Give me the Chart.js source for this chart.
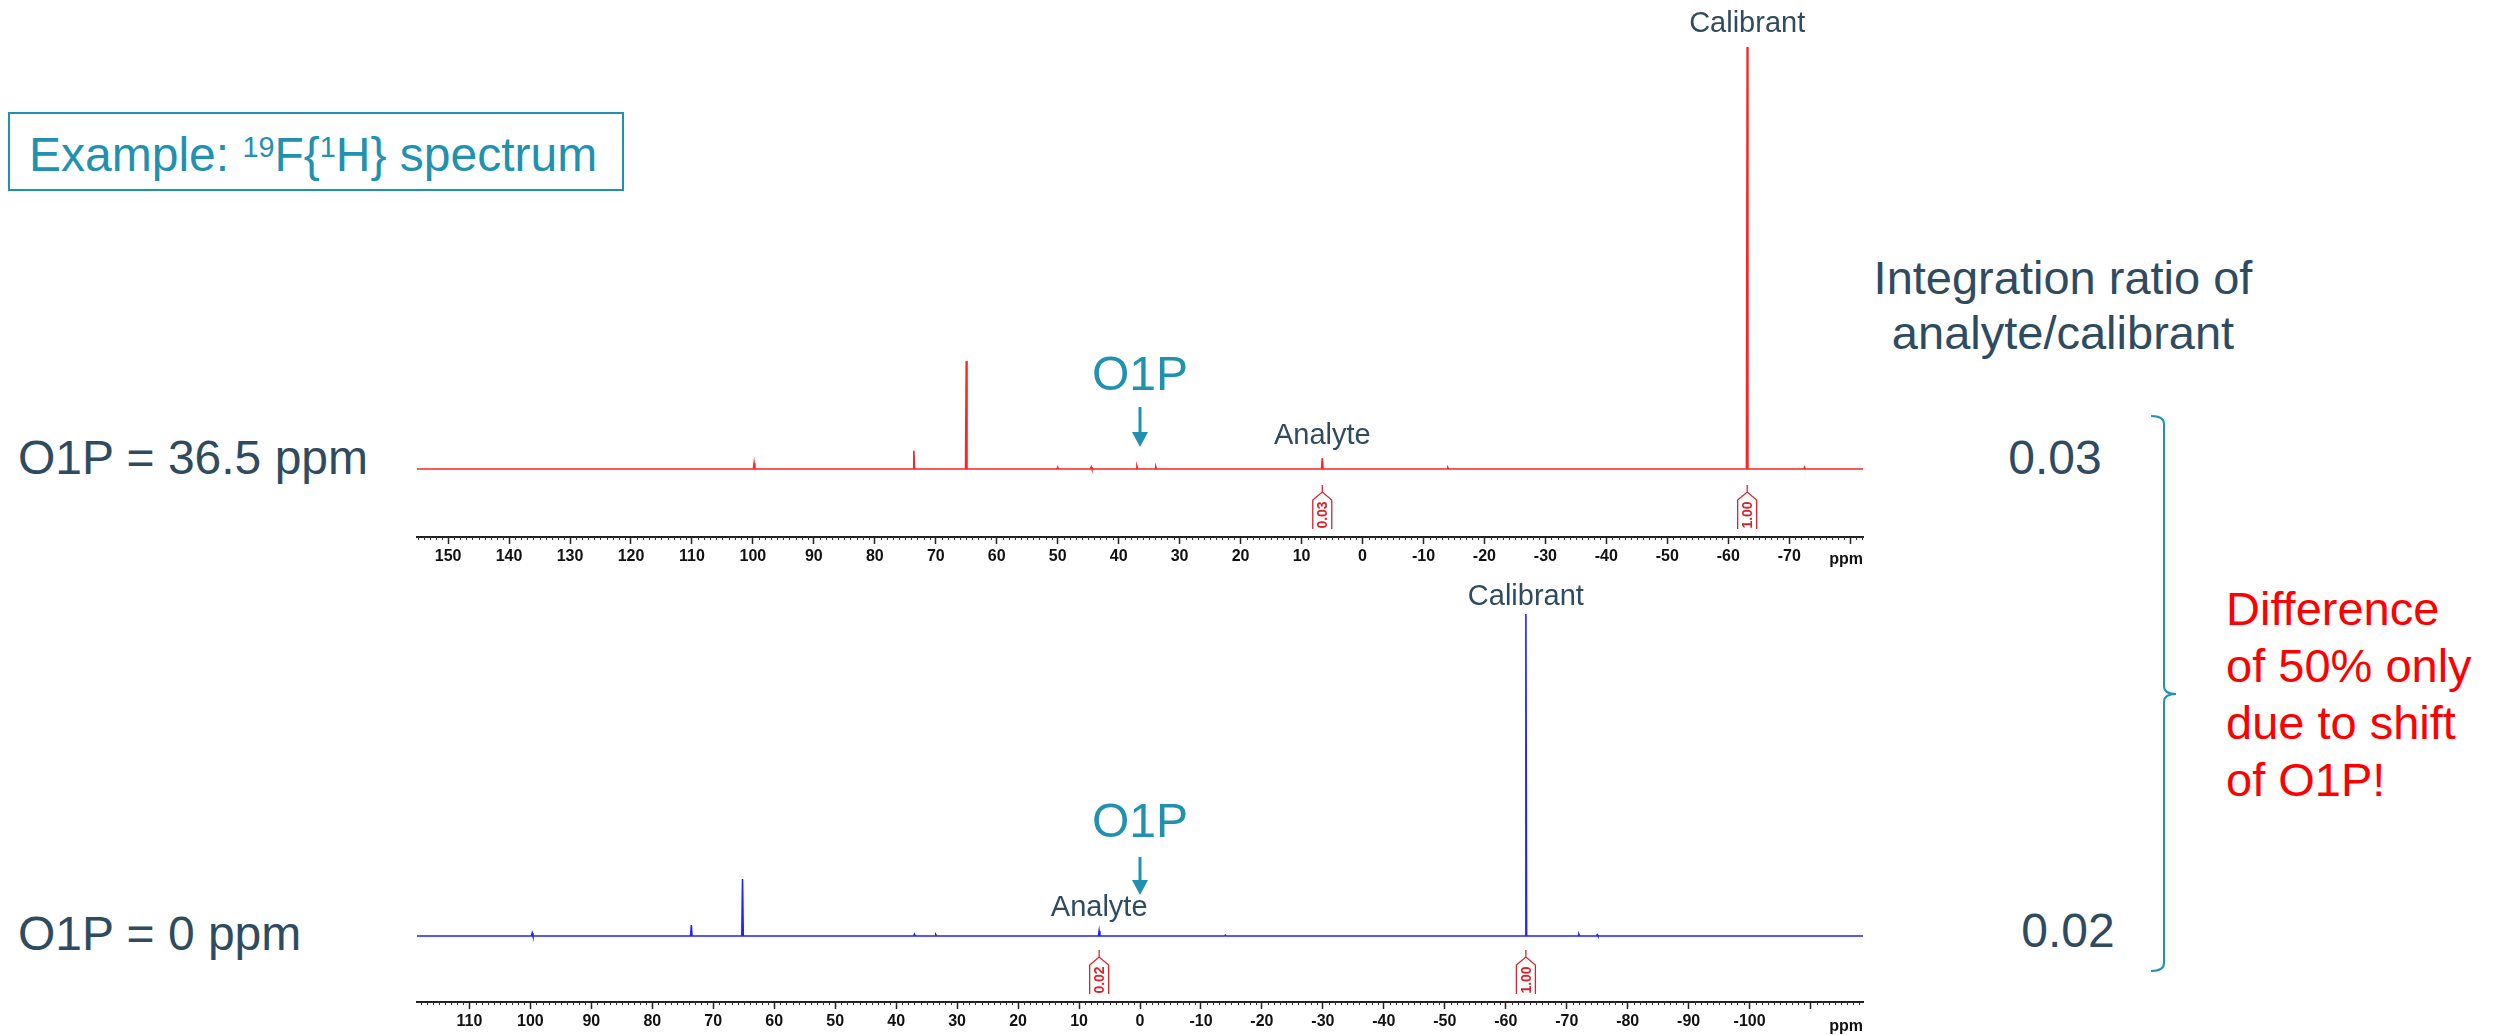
<!DOCTYPE html>
<html>
<head>
<meta charset="utf-8">
<title>19F{1H} spectrum - O1P offset</title>
<script src="https://cdn.jsdelivr.net/npm/chart.js@4.4.1/dist/chart.umd.min.js"></script>
<style>
  html, body { margin: 0; padding: 0; background: #fff; }
  body {
    width: 2501px; height: 1035px; position: relative; overflow: hidden;
    font-family: "Liberation Sans", Arial, sans-serif; color: #2f4b5f;
  }
  .txt { position: absolute; white-space: nowrap; line-height: 1; }
  .mid { transform: translateX(-50%); }
  canvas { position: absolute; left: 0; }
  #exampleBox {
    position: absolute; left: 8px; top: 112px; width: 612px; height: 75px;
    border: 2px solid #2191b0;
  }
  .sup { font-size: 0.6em; position: relative; top: -0.5em; }
</style>
</head>
<body>

<div id="exampleBox"></div>
<div class="txt" style="left:29px; top:131px; font-size:48px; color:#2191b0;">
  Example: <span class="sup">19</span>F{<span class="sup">1</span>H} spectrum
</div>

<div class="txt" style="left:18px; top:434px; font-size:48px;">O1P = 36.5 ppm</div>
<div class="txt" style="left:18px; top:910px; font-size:48px;">O1P = 0 ppm</div>

<div class="txt mid" style="left:2063px; top:254px; font-size:47px;">Integration ratio of</div>
<div class="txt mid" style="left:2063px; top:309px; font-size:47px;">analyte/calibrant</div>
<div class="txt mid" id="ratioTop" style="left:2055px; top:434px; font-size:48px;"></div>
<div class="txt mid" id="ratioBottom" style="left:2068px; top:907px; font-size:48px;"></div>

<svg style="position:absolute; left:0; top:0;" width="2501" height="1035">
  <path d="M2151 416 Q2164 416 2164 424 L2164 686 Q2164 694 2176 694 Q2164 694 2164 702 L2164 963 Q2164 971 2151 971"
        fill="none" stroke="#2191b0" stroke-width="2"/>
</svg>

<div class="txt" style="left:2226px; top:580px; font-size:47px; line-height:57px; color:#ff0000;">
  Difference<br>of 50% only<br>due to shift<br>of O1P!
</div>

<canvas id="specTop" width="2501" height="580" style="top:0px;"></canvas>
<canvas id="specBottom" width="2501" height="475" style="top:560px;"></canvas>

<script>
// spectrometer offset (centre of the window) and half sweep width, ppm
const o1pTop = 36.5;
const o1pBottom = 0;
const halfSweep = 118.6;

// O1P = 36.5 ppm acquisition: peak positions (ppm) and heights (calibrant = 100)
const topPeakPpm    = [99.8, 73.6, 65.0, 50.0, 44.5, 37.0, 33.9, 6.6, -14.0, -63.1, -72.5];
const topPeakHeight = [1.4,  4.3,  25.6, 0.4,  0.5,  0.6,  0.5,  2.6, 0.3,   100,   0.4];
const topIntegralPpm   = [6.6, -63.1];
const topIntegralValue = [0.03, 1.00];
const topTickLabels = [150, 140, 130, 120, 110, 100, 90, 80, 70, 60, 50, 40, 30, 20, 10, 0,
                       -10, -20, -30, -40, -50, -60, -70];

// O1P = 0 ppm acquisition
const botPeakPpm    = [99.7, 73.6, 65.2, 37.0, 33.5, 6.7, -14.0, -63.3, -72.0, -75.0];
const botPeakHeight = [0.7,  2.6,  13.5, 0.4,  0.3,  1.2, 0.2,   76.3,  0.4,   0.3];
const botIntegralPpm   = [6.7, -63.3];
const botIntegralValue = [0.02, 1.00];
const botTickLabels = [110, 100, 90, 80, 70, 60, 50, 40, 30, 20, 10, 0,
                       -10, -20, -30, -40, -50, -60, -70, -80, -90, -100];

const integralNames = ["Analyte", "Calibrant"];

const FONT = "'Liberation Sans', Arial, sans-serif";
const TEAL = "#2191b0";
const INK = "#2f4b5f";
const INTEGRAL_RED = "#d8222c";

document.getElementById("ratioTop").textContent =
  (topIntegralValue[0] / topIntegralValue[1]).toFixed(2);
document.getElementById("ratioBottom").textContent =
  (botIntegralValue[0] / botIntegralValue[1]).toFixed(2);

// each line is a flat baseline with every peak as a very narrow spike
function buildTrace(peakPpm, peakHeight, lo, hi) {
  const pts = [{ x: hi, y: 0 }, { x: lo, y: 0 }];
  peakPpm.forEach((p, i) => {
    pts.push({ x: p + 0.12, y: 0 }, { x: p, y: peakHeight[i] }, { x: p - 0.12, y: 0 });
  });
  return pts.sort((a, b) => b.x - a.x);
}

// minor ticks, integral markers, peak labels and O1P arrow
const spectrumDecor = {
  id: "spectrumDecor",
  afterDraw(chart, args, opts) {
    const ctx = chart.ctx;
    const xs = chart.scales.x;
    const ys = chart.scales.y;
    const area = chart.chartArea;
    const base = ys.getPixelForValue(0);

    ctx.save();

    // 1 ppm minor ticks
    ctx.strokeStyle = "#333";
    ctx.lineWidth = 1;
    for (let p = Math.ceil(xs.min); p <= Math.floor(xs.max); p++) {
      if (p % 10 === 0) continue;
      const x = Math.round(xs.getPixelForValue(p)) + 0.5;
      ctx.beginPath();
      ctx.moveTo(x, area.bottom);
      ctx.lineTo(x, area.bottom + 3);
      ctx.stroke();
    }

    // unit label at the right end of the axis
    ctx.fillStyle = "#111";
    ctx.font = "bold 16px " + FONT;
    ctx.textAlign = "right";
    ctx.textBaseline = "alphabetic";
    ctx.fillText("ppm", area.right, area.bottom + opts.unitDrop);

    // integral markers
    opts.integralPpm.forEach((p, i) => {
      const x = xs.getPixelForValue(p);
      const b = area.bottom;
      ctx.strokeStyle = INTEGRAL_RED;
      ctx.lineWidth = 1.3;
      ctx.beginPath();
      ctx.moveTo(x, b - 52);
      ctx.lineTo(x, b - 45);
      ctx.moveTo(x - 9.5, b - 8);
      ctx.lineTo(x - 9.5, b - 37);
      ctx.lineTo(x, b - 45);
      ctx.lineTo(x + 9.5, b - 37);
      ctx.lineTo(x + 9.5, b - 8);
      ctx.stroke();

      ctx.save();
      ctx.translate(x + 1, b - 22);
      ctx.rotate(-Math.PI / 2);
      ctx.fillStyle = INTEGRAL_RED;
      ctx.font = "bold 14px " + FONT;
      ctx.textAlign = "center";
      ctx.textBaseline = "middle";
      ctx.fillText(opts.integralValue[i].toFixed(2), 0, 0);
      ctx.restore();
    });

    // peak names
    ctx.fillStyle = INK;
    ctx.font = "29px " + FONT;
    ctx.textAlign = "center";
    ctx.textBaseline = "alphabetic";
    const ax = xs.getPixelForValue(opts.integralPpm[0]);
    ctx.fillText(integralNames[0], ax, base - opts.analyteLift);
    const cIdx = opts.peakPpm.indexOf(opts.integralPpm[1]);
    const cx = xs.getPixelForValue(opts.integralPpm[1]);
    const cTop = ys.getPixelForValue(opts.peakHeight[cIdx]);
    ctx.fillText(integralNames[1], cx, cTop - opts.calibrantGap);

    // O1P marker
    const ox = xs.getPixelForValue(opts.o1p);
    ctx.fillStyle = TEAL;
    ctx.font = "48px " + FONT;
    ctx.fillText("O1P", ox, base - opts.o1pTextLift);
    const tip = base - opts.arrowTipLift;
    ctx.strokeStyle = TEAL;
    ctx.lineWidth = 3;
    ctx.beginPath();
    ctx.moveTo(ox, base - opts.arrowTopLift);
    ctx.lineTo(ox, tip - 12);
    ctx.stroke();
    ctx.beginPath();
    ctx.moveTo(ox - 8, tip - 15);
    ctx.lineTo(ox + 8, tip - 15);
    ctx.lineTo(ox, tip);
    ctx.closePath();
    ctx.fill();

    ctx.restore();
  }
};

function makeSpectrum(canvasId, cfg) {
  const lo = cfg.o1p - halfSweep;
  const hi = cfg.o1p + halfSweep;
  return new Chart(document.getElementById(canvasId), {
    type: "line",
    data: {
      datasets: [{
        data: buildTrace(cfg.peakPpm, cfg.peakHeight, lo, hi),
        borderColor: cfg.color,
        borderWidth: 1.6,
        pointRadius: 0,
        tension: 0
      }]
    },
    options: {
      responsive: false,
      animation: false,
      events: [],
      layout: { padding: { left: 417, right: 638, top: cfg.padTop, bottom: 0 } },
      plugins: {
        legend: { display: false },
        tooltip: { enabled: false },
        spectrumDecor: cfg.decor
      },
      scales: {
        x: {
          type: "linear",
          reverse: true,
          min: lo,
          max: hi,
          afterFit(scale) { scale.height = cfg.axisHeight; },
          ticks: {
            stepSize: 10,
            includeBounds: false,
            autoSkip: false,
            maxRotation: 0,
            padding: 3,
            color: "#111",
            font: { family: FONT, size: 16, weight: "bold" },
            callback: v => cfg.tickLabels.includes(v) ? String(v) : ""
          },
          grid: {
            drawOnChartArea: false,
            drawTicks: true,
            tickLength: 7,
            tickWidth: 1.5,
            tickColor: "#222"
          },
          border: { display: true, color: "#222", width: 2 }
        },
        y: { display: false, min: cfg.yMin, max: cfg.yMax }
      }
    },
    plugins: [spectrumDecor]
  });
}

makeSpectrum("specTop", {
  o1p: o1pTop,
  peakPpm: topPeakPpm,
  peakHeight: topPeakHeight,
  tickLabels: topTickLabels,
  color: "#ff2222",
  padTop: 30,
  axisHeight: 43,
  yMin: -16.11,
  yMax: 104.03,
  decor: {
    o1p: o1pTop,
    peakPpm: topPeakPpm,
    peakHeight: topPeakHeight,
    integralPpm: topIntegralPpm,
    integralValue: topIntegralValue,
    unitDrop: 27,
    calibrantGap: 15,
    analyteLift: 25,
    o1pTextLift: 79,
    arrowTopLift: 62,
    arrowTipLift: 22
  }
});

makeSpectrum("specBottom", {
  o1p: o1pBottom,
  peakPpm: botPeakPpm,
  peakHeight: botPeakHeight,
  tickLabels: botTickLabels,
  color: "#2222ff",
  padTop: 10,
  axisHeight: 33,
  yMin: -15.64,
  yMax: 86.73,
  decor: {
    o1p: o1pBottom,
    peakPpm: botPeakPpm,
    peakHeight: botPeakHeight,
    integralPpm: botIntegralPpm,
    integralValue: botIntegralValue,
    unitDrop: 29,
    calibrantGap: 9,
    analyteLift: 20,
    o1pTextLift: 99,
    arrowTopLift: 79,
    arrowTipLift: 41
  }
});
</script>
</body>
</html>
